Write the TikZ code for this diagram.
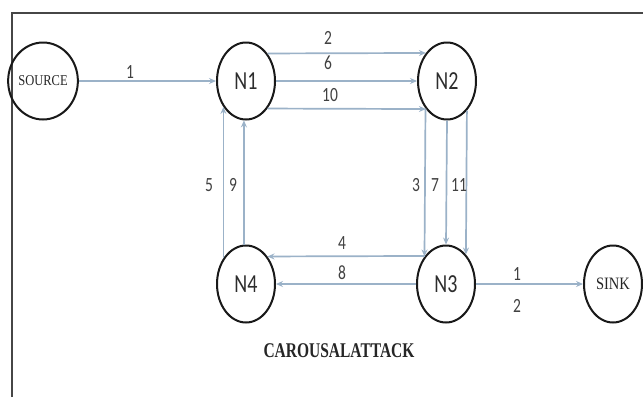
\documentclass[tikz,border=0pt]{standalone}
\usepackage{graphicx}
\usepackage{fontspec}
\setmainfont{Carlito}
\newfontfamily\serifnode{Liberation Serif}
\usetikzlibrary{shapes.geometric,arrows.meta}
\definecolor{edgecol}{RGB}{155,178,200}
\definecolor{labcol}{RGB}{65,65,65}
\definecolor{nodetxt}{RGB}{45,45,45}
\definecolor{framecol}{RGB}{70,70,70}
\newcommand{\tallt}[2][1.3]{\scalebox{1}[#1]{#2}}
\tikzset{
  vert/.style={ellipse, draw=black!90, line width=2pt, minimum width=58pt, minimum height=77pt, inner sep=0pt, text=nodetxt, font=\fontsize{20}{20}\selectfont},
  flow/.style={draw=edgecol, line width=1.7pt, -{Stealth[length=7pt,width=6pt,inset=2.5pt]}},
  lab/.style={text=labcol, font=\fontsize{15.5}{15.5}\selectfont, inner sep=0pt},
  frame/.style={draw=framecol, line width=1.8pt}
}
\begin{document}
\begin{tikzpicture}[x=1pt,y=-1pt]
\useasboundingbox (0,0) rectangle (643,397);
\fill[white] (0,0) rectangle (643,397);
\draw[frame] (12,397) -- (12,13) -- (643,13);

\node[vert, text=black!85, font=\serifnode\fontsize{12.5}{12.5}\selectfont] (src) at (43,81) {\tallt[1.2]{SOURCE}};
\node[vert] (n1) at (246,81) {\tallt{N1}};
\node[vert] (n2) at (447,81) {\tallt{N2}};
\node[vert] (n3) at (446,284) {\tallt{N3}};
\node[vert] (n4) at (246,284) {\tallt{N4}};
\node[vert, text=black!85, font=\serifnode\fontsize{14.5}{14.5}\selectfont] (sink) at (613,284) {\tallt[1.2]{SINK}};

% source -> N1
\draw[flow] (src.east) -- (n1.west);
\node[lab] (l1) at (130,72) {\tallt{1}};

% N1 -> N2
\draw[flow] (n1.52.5) -- (n2.127.5);
\draw[flow] (n1.east) -- (n2.west);
\draw[flow] (n1.-52.5) -- (n2.-127.5);
\node[lab] (l2) at (328,38) {\tallt{2}};
\node[lab] (l6) at (328,63) {\tallt{6}};
\node[lab] (l10) at (330,95) {\tallt{10}};

% N2 -> N3
\draw[flow] (n2.-128.3) -- (n3.128.3);
\draw[flow] (n2.-90) -- (n3.90);
\draw[flow] (n2.-56.9) -- (n3.56.9);
\node[lab] (l3) at (416,185) {\tallt{3}};
\node[lab] (l7) at (435,185) {\tallt{7}};
\node[lab] (l11) at (459,185) {\tallt{11}};

% N3 -> N4
\draw[flow] (n3.127.5) -- (n4.52.5);
\draw[flow] (n3.west) -- (n4.east);
\node[lab] (l4) at (342,243) {\tallt{4}};
\node[lab] (l8) at (342,273) {\tallt{8}};

% N4 -> N1
\draw[flow] (n4.131.2) -- (n1.-131.2);
\draw[flow] (n4.93) -- (n1.-93);
\node[lab] (l5) at (209,185) {\tallt{5}};
\node[lab] (l9) at (233,185) {\tallt{9}};

% N3 -> sink
\draw[flow] (n3.east) -- (sink.west);
\node[lab] (s1) at (517,274) {\tallt{1}};
\node[lab] (s2) at (517,306) {\tallt{2}};

\node[font=\serifnode\bfseries\fontsize{15.5}{15.5}\selectfont, text=black!85, inner sep=0pt] (title) at (339,351) {\tallt[1.35]{CAROUSALATTACK}};
\end{tikzpicture}
\end{document}
